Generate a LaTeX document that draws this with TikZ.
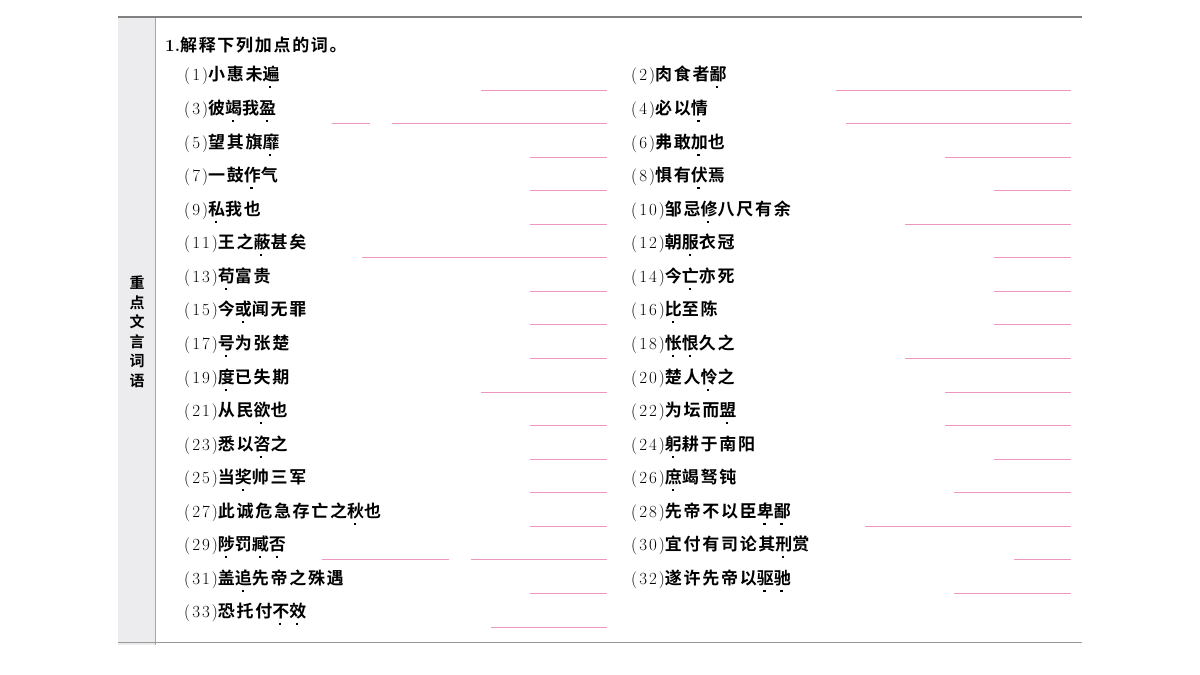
\documentclass[tikz,border=0pt]{standalone}
\usepackage{fontspec}
\newfontfamily\cjk[LetterSpace=10,BoldFont={Noto Sans CJK SC Bold}]{Noto Sans CJK SC}
\newfontfamily\lab[LetterSpace=12]{Latin Modern Roman}
\definecolor{pk}{RGB}{240,150,190}
\definecolor{side}{RGB}{236,236,238}
\newcommand\dt[1]{\ooalign{#1\cr\hfil\raisebox{-0.42em}{\rule{2.2pt}{2.2pt}}\hspace{0.1em}\hfil\cr}}
\tikzset{itm/.style={anchor=west,inner sep=0pt,font=\fontsize{17}{20}\selectfont},
ans/.style={draw=pk,line width=0.9pt}}
\newcommand\itm[5]{\node[itm] (#1) at (#2,#3) {{\lab(#4)}{\cjk\bfseries #5}};}
\begin{document}
\begin{tikzpicture}[x=1pt,y=-1pt]
\useasboundingbox (0,0) rectangle (1200,675);
\fill[white] (0,0) rectangle (1200,675);
\fill[side] (118,17) rectangle (155,645);
\draw[gray!70,line width=0.8pt] (155,17) -- (155,645);
\draw[gray,line width=1.2pt] (118,17) -- (1082,17);
\draw[gray!80,line width=1pt] (118,642) -- (1082,642);
\node[align=center,inner sep=0pt,font=\cjk\bfseries\fontsize{15}{19.5}\selectfont] (side) at (137,332) {重\\点\\文\\言\\词\\语};
\node[anchor=west,inner sep=0pt,font=\fontsize{17}{20}\selectfont] (head) at (165,45) {{\bfseries 1.}{\cjk\bfseries 解释下列加点的词。}};
\itm{a1}{184}{77}{1}{小惠未\dt{遍}}
\itm{a3}{184}{111}{3}{彼\dt{竭}我\dt{盈}}
\itm{a5}{184}{145}{5}{望其旗\dt{靡}}
\itm{a7}{184}{178}{7}{一鼓\dt{作}气}
\itm{a9}{184}{212}{9}{\dt{私}我也}
\itm{a11}{184}{245}{11}{王之\dt{蔽}甚矣}
\itm{a13}{184}{279}{13}{\dt{苟}富贵}
\itm{a15}{184}{312}{15}{今\dt{或}闻无罪}
\itm{a17}{184}{346}{17}{\dt{号}为张楚}
\itm{a19}{184}{380}{19}{\dt{度}已失期}
\itm{a21}{184}{413}{21}{从民\dt{欲}也}
\itm{a23}{184}{447}{23}{悉以\dt{咨}之}
\itm{a25}{184}{480}{25}{当\dt{奖}帅三军}
\itm{a27}{184}{514}{27}{此诚危急存亡之\dt{秋}也}
\itm{a29}{184}{547}{29}{\dt{陟}罚\dt{臧}\dt{否}}
\itm{a31}{184}{581}{31}{盖\dt{追}先帝之殊遇}
\itm{a33}{184}{614}{33}{恐托付\dt{不}\dt{效}}
\itm{b2}{631}{77}{2}{肉食者\dt{鄙}}
\itm{b4}{631}{111}{4}{必以\dt{情}}
\itm{b6}{631}{145}{6}{弗敢\dt{加}也}
\itm{b8}{631}{178}{8}{惧有\dt{伏}焉}
\itm{b10}{631}{212}{10}{邹忌\dt{修}八尺有余}
\itm{b12}{631}{245}{12}{朝\dt{服}衣冠}
\itm{b14}{631}{279}{14}{今\dt{亡}亦死}
\itm{b16}{631}{312}{16}{\dt{比}至陈}
\itm{b18}{631}{346}{18}{\dt{怅}\dt{恨}久之}
\itm{b20}{631}{380}{20}{楚人\dt{怜}之}
\itm{b22}{631}{413}{22}{为坛而\dt{盟}}
\itm{b24}{631}{447}{24}{\dt{躬}耕于南阳}
\itm{b26}{631}{480}{26}{\dt{庶}竭驽钝}
\itm{b28}{631}{514}{28}{先帝不以臣\dt{卑}\dt{鄙}}
\itm{b30}{631}{547}{30}{宜付有司论其\dt{刑}赏}
\itm{b32}{631}{581}{32}{遂许先帝以\dt{驱}\dt{驰}}
% answer lines
\foreach \y/\s in {90/481,157/530,190/530,224/530,257/362,291/530,324/530,358/530,392/481,425/530,459/530,492/530,526/530,593/530,627/491}
  \draw[ans] (\s,\y) -- (607,\y);
\draw[ans] (332,123) -- (370,123);
\draw[ans] (392,123) -- (607,123);
\draw[ans] (322,559) -- (449,559);
\draw[ans] (471,559) -- (607,559);
\foreach \y/\s in {90/836,123/846,157/945,190/994,224/905,257/994,291/994,324/994,358/905,392/945,425/945,459/994,492/954,526/865,559/1014,593/954}
  \draw[ans] (\s,\y) -- (1071,\y);
\end{tikzpicture}
\end{document}
